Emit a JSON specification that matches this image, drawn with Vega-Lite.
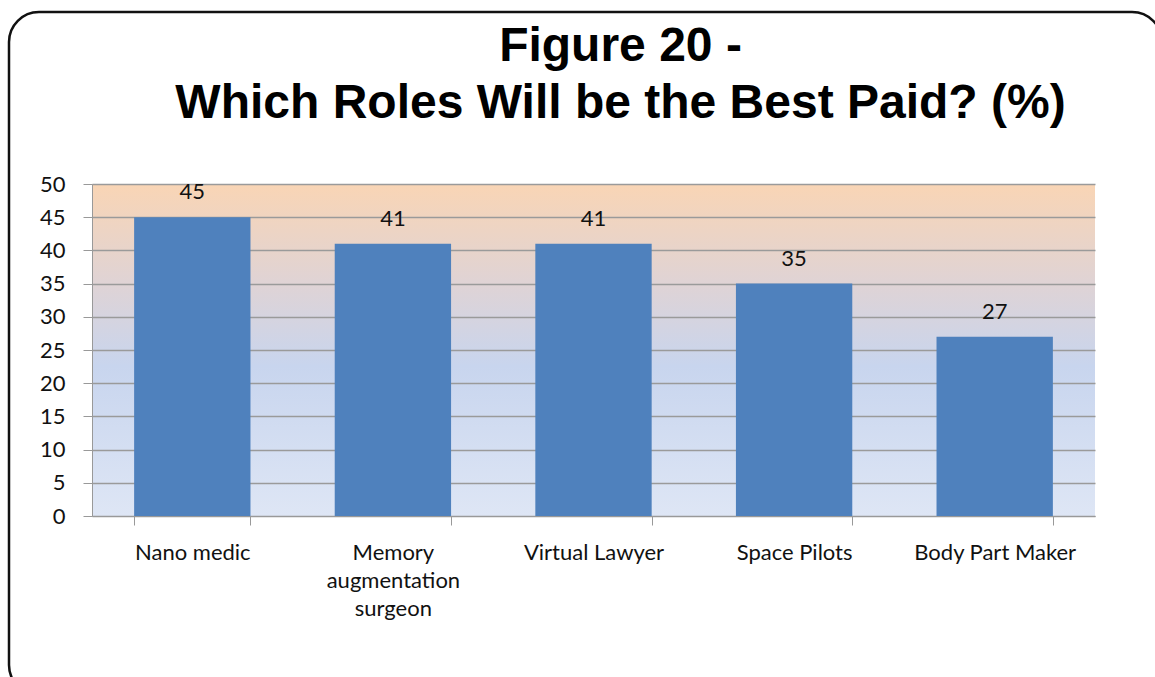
{
  "$schema": "https://vega.github.io/schema/vega-lite/v6.json",
  "width": 1003,
  "height": 332,
  "autosize": {"type": "none"},
  "padding": {"left": 92, "top": 184, "right": 60, "bottom": 161},
  "background": "white",
  "title": {
    "text": ["Figure 20 -", "Which Roles Will be the Best Paid? (%)"],
    "font": "Liberation Sans",
    "fontSize": 48,
    "fontWeight": "bold",
    "color": "black",
    "anchor": "middle",
    "dx": 27,
    "lineHeight": 57,
    "offset": -117
  },
  "view": {
    "stroke": null,
    "fill": {
      "gradient": "linear",
      "x1": 0, "y1": 0, "x2": 0, "y2": 1,
      "stops": [
        {"offset": 0, "color": "#F9D5B5"},
        {"offset": 0.3, "color": "#DFD3D5"},
        {"offset": 0.55, "color": "#C8D5EE"},
        {"offset": 1, "color": "#DEE6F5"}
      ]
    }
  },
  "config": {
    "font": "Lato"
  },
  "layer": [
    {
      "data": {"values": [{}]},
      "mark": {"type": "rect", "fill": null, "stroke": "#111111", "strokeWidth": 2.5, "cornerRadius": 30},
      "encoding": {
        "x": {"value": -83},
        "x2": {"value": 1070},
        "y": {"value": -172},
        "y2": {"value": 511}
      }
    },
    {
      "data": {
        "values": [
          {"Role": "Nano medic", "Percent": 45},
          {"Role": "Memory augmentation surgeon", "Percent": 41},
          {"Role": "Virtual Lawyer", "Percent": 41},
          {"Role": "Space Pilots", "Percent": 35},
          {"Role": "Body Part Maker", "Percent": 27}
        ]
      },
      "encoding": {
        "x": {
          "field": "Role",
          "type": "nominal",
          "sort": null,
          "scale": {"paddingInner": 0.42, "paddingOuter": 0.21},
          "axis": {
            "title": null,
            "labelAngle": 0,
            "labelFont": "Lato",
            "labelFontSize": 22,
            "labelColor": "#111111",
            "labelLineHeight": 28,
            "labelBaseline": "top",
            "labelPadding": 17,
            "labelExpr": "datum.label == 'Memory augmentation surgeon' ? ['Memory', 'augmentation', 'surgeon'] : datum.label",
            "tickBand": "extent",
            "tickSize": 9,
            "tickColor": "#999999",
            "domainColor": "#999999",
            "grid": false
          }
        },
        "y": {
          "field": "Percent",
          "type": "quantitative",
          "scale": {"domain": [0, 50], "nice": false},
          "axis": {
            "title": null,
            "values": [0, 5, 10, 15, 20, 25, 30, 35, 40, 45, 50],
            "labelOverlap": false,
            "labelFont": "Lato",
            "labelFontSize": 22,
            "labelColor": "#111111",
            "labelPadding": 18,
            "tickSize": 9,
            "tickColor": "#999999",
            "domainColor": "#999999",
            "gridColor": "#9A9A9A",
            "gridWidth": 1.5
          }
        }
      },
      "layer": [
        {
          "mark": {"type": "bar", "color": "#4F81BD"}
        },
        {
          "mark": {"type": "text", "baseline": "alphabetic", "dy": -18, "font": "Lato", "fontSize": 22, "color": "#111111"},
          "encoding": {
            "text": {"field": "Percent", "type": "quantitative"}
          }
        }
      ]
    }
  ]
}
